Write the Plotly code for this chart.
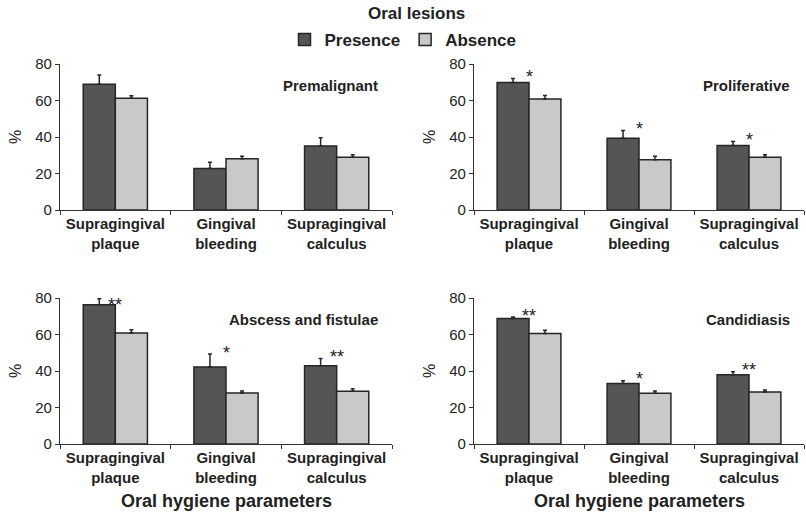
import plotly.graph_objects as go

categories = ["Supragingival<br>plaque", "Gingival<br>bleeding", "Supragingival<br>calculus"]
panel_titles = ["Premalignant", "Proliferative", "Abscess and fistulae", "Candidiasis"]

presence_vals = [
    [68.9, 22.8, 35.1],
    [69.8, 39.3, 35.3],
    [76.3, 42.2, 42.9],
    [68.7, 33.1, 38.0],
]
presence_err = [
    [5.1, 3.3, 4.5],
    [2.3, 4.2, 2.3],
    [3.3, 7.1, 4.0],
    [0.9, 1.6, 1.6],
]
absence_vals = [
    [61.2, 28.1, 28.9],
    [60.8, 27.6, 28.9],
    [60.8, 27.9, 28.9],
    [60.5, 27.8, 28.5],
]
absence_err = [
    [1.4, 1.3, 1.4],
    [2.0, 1.8, 1.4],
    [1.8, 1.1, 1.4],
    [1.8, 1.2, 1.1],
]
significance = [
    ["", "", ""],
    ["*", "*", "*"],
    ["**", "*", "**"],
    ["**", "*", "**"],
]
y_ticks = [0, 20, 40, 60, 80]

W, H = 806, 512
DARK = "#545557"
LIGHT = "#c8c9cb"
EDGE = "#262626"
FONT = "Liberation Sans, Arial, sans-serif"

# panel pixel boxes (x0, x1, ytop, ybottom)
boxes = [
    (60, 392, 64, 210),
    (474, 804, 64, 210),
    (60, 392, 298, 444),
    (474, 804, 298, 444),
]

fig = go.Figure()
for i in range(4):
    ax = "" if i == 0 else str(i + 1)
    fig.add_trace(go.Bar(
        x=categories, y=presence_vals[i], name="<b>Presence</b>",
        marker=dict(color=DARK, line=dict(color=EDGE, width=1.5)),
        error_y=dict(type="data", symmetric=False, array=presence_err[i],
                     arrayminus=[0] * 3, color=EDGE, thickness=1.5, width=2),
        xaxis="x" + ax, yaxis="y" + ax, showlegend=(i == 0), legendgroup="p",
    ))
    fig.add_trace(go.Bar(
        x=categories, y=absence_vals[i], name="<b>Absence</b>",
        marker=dict(color=LIGHT, line=dict(color=EDGE, width=1.5)),
        error_y=dict(type="data", symmetric=False, array=absence_err[i],
                     arrayminus=[0] * 3, color=EDGE, thickness=1.5, width=2),
        xaxis="x" + ax, yaxis="y" + ax, showlegend=(i == 0), legendgroup="a",
    ))

layout = dict(
    width=W, height=H, margin=dict(l=0, r=0, t=0, b=0, autoexpand=False),
    paper_bgcolor="white", plot_bgcolor="white",
    barmode="group", bargap=0.42, bargroupgap=0,
    font=dict(family=FONT, color="#222", size=15),
    showlegend=True,
    legend=dict(orientation="h", x=0.5, xanchor="center", y=1 - 40 / H, yanchor="middle",
                font=dict(size=17, family=FONT, color="#222"), itemwidth=30,
                bgcolor="rgba(0,0,0,0)", traceorder="normal"),
)
annotations = [
    dict(text="<b>Oral lesions</b>", x=416 / W, y=1 - 13 / H, xref="paper", yref="paper",
         showarrow=False, font=dict(size=17), xanchor="center", yanchor="middle"),
]
for i, (x0, x1, yt, yb) in enumerate(boxes):
    ax = "" if i == 0 else str(i + 1)
    xa = "xaxis" + ax
    ya = "yaxis" + ax
    layout[xa] = dict(
        domain=[x0 / W, x1 / W], anchor="y" + ax, type="category",
        showline=True, linecolor="#333", linewidth=1.2,
        ticks="outside", tickson="boundaries", ticklen=4, tickcolor="#333",
        tickfont=dict(size=15, family=FONT, weight="bold", color="#222"),
        showgrid=False, range=[-0.5, 2.5], fixedrange=True, automargin=False,
    )
    layout[ya] = dict(
        domain=[1 - yb / H, 1 - yt / H], anchor="x" + ax,
        range=[0, 80], tickvals=y_ticks, showline=True, linecolor="#333", linewidth=1.2,
        ticks="outside", ticklen=4, tickcolor="#333", showgrid=False, zeroline=False,
        tickfont=dict(size=15, family=FONT, color="#222"), automargin=False,
    )
    # percent label
    annotations.append(dict(text="%", x=(x0 - 45) / W, y=1 - (yt + yb) / 2 / H,
                            xref="paper", yref="paper", showarrow=False, textangle=-90,
                            font=dict(size=16), xanchor="center", yanchor="middle"))
    # panel title
    annotations.append(dict(text="<b>" + panel_titles[i] + "</b>", x=0.965, y=0.85,
                            xref="x" + ax + " domain", yref="y" + ax + " domain",
                            showarrow=False, font=dict(size=15), xanchor="right", yanchor="middle"))
    # significance stars
    for j, c in enumerate(categories):
        s = significance[i][j]
        if not s:
            continue
        top = max(presence_vals[i][j] + presence_err[i][j], absence_vals[i][j] + absence_err[i][j])
        annotations.append(dict(text=s, x=c, y=min(top + 3.0, 78.5), xref="x" + ax, yref="y" + ax,
                                showarrow=False, font=dict(size=18), xanchor="center",
                                yanchor="middle", yshift=-4))
    if i >= 2:
        annotations.append(dict(text="<b>Oral hygiene parameters</b>", x=0.5, y=1 - 501 / H,
                                xref="x" + ax + " domain", yref="paper", showarrow=False,
                                font=dict(size=18), xanchor="center", yanchor="middle"))
layout["annotations"] = annotations
fig.update_layout(**layout)
fig.write_html("out.html", config={"displayModeBar": False},
               post_script="document.body.style.margin='0';document.body.style.padding='0';")
